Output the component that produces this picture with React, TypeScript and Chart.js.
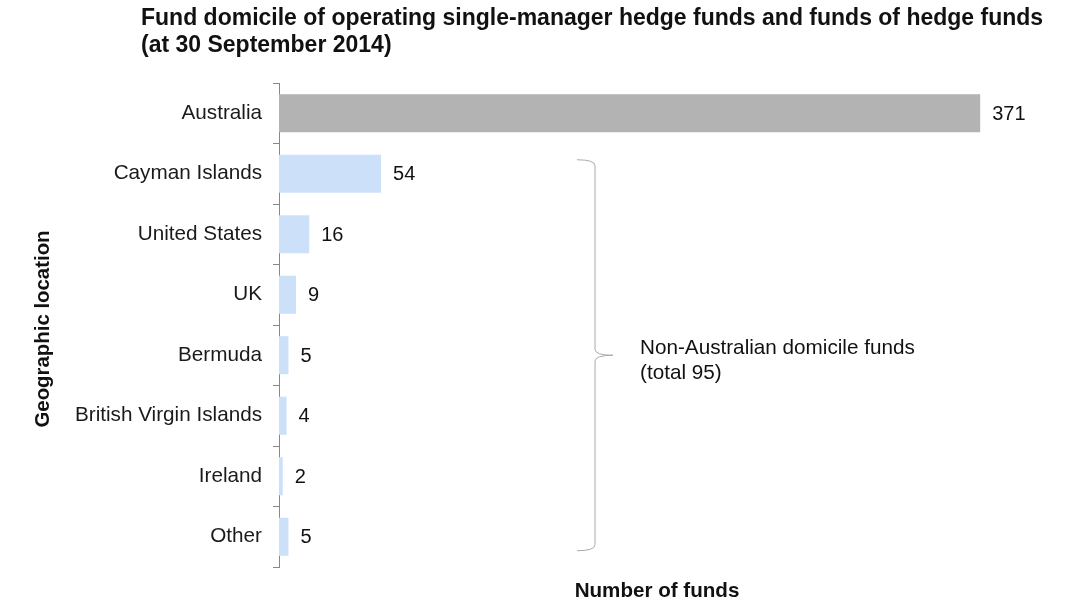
import React, { useEffect, useRef } from "react";
import { Chart, registerables } from "chart.js";

Chart.register(...registerables);

const categories = [
  "Australia",
  "Cayman Islands",
  "United States",
  "UK",
  "Bermuda",
  "British Virgin Islands",
  "Ireland",
  "Other",
];
const fundCounts = [371, 54, 16, 9, 5, 4, 2, 5];
const barColors = ["#b3b3b3", "#cce0f9", "#cce0f9", "#cce0f9", "#cce0f9", "#cce0f9", "#cce0f9", "#cce0f9"];
const titleLines = [
  "Fund domicile of operating single-manager hedge funds and funds of hedge funds",
  "(at 30 September 2014)",
];
const braceLabelLines = ["Non-Australian domicile funds", "(total 95)"];
const xAxisTitle = "Number of funds";
const yAxisTitle = "Geographic location";
const xMax = 400;

const FONT = '"Liberation Sans", Arial, sans-serif';

const annotations = {
  id: "annotations",
  afterDatasetsDraw(chart: any) {
    const ctx = chart.ctx as CanvasRenderingContext2D;
    const meta = chart.getDatasetMeta(0);
    const area = chart.chartArea;
    ctx.save();
    // value labels
    ctx.font = `20px ${FONT}`;
    ctx.fillStyle = "#111";
    ctx.textBaseline = "middle";
    ctx.textAlign = "left";
    meta.data.forEach((bar: any, i: number) => {
      ctx.fillText(String(fundCounts[i]), bar.x + 12, bar.y + 1);
    });

    // title
    ctx.font = `bold 23px ${FONT}`;
    ctx.fillStyle = "#111";
    ctx.fillText(titleLines[0], 141, 19);
    ctx.fillText(titleLines[1], 141, 46);

    // x axis title
    ctx.textAlign = "center";
    ctx.font = `bold 20.6px ${FONT}`;
    ctx.fillText(xAxisTitle, (area.left + area.right) / 2, 591);

    // y axis title
    ctx.save();
    ctx.translate(43, (area.top + area.bottom) / 2 + 4);
    ctx.rotate(-Math.PI / 2);
    ctx.font = `bold 20.4px ${FONT}`;
    ctx.fillText(yAxisTitle, 0, 0);
    ctx.restore();

    // brace spanning non-Australian categories
    const yScale = chart.scales.y;
    const top = yScale.getPixelForValue(1) - 14;
    const bottom = yScale.getPixelForValue(categories.length - 1) + 14;
    const mid = (top + bottom) / 2;
    const bx = 595;
    ctx.strokeStyle = "#aaa";
    ctx.lineWidth = 1;
    ctx.beginPath();
    ctx.moveTo(577, top);
    ctx.quadraticCurveTo(bx, top, bx, top + 6);
    ctx.lineTo(bx, mid - 6);
    ctx.quadraticCurveTo(bx, mid, bx + 18, mid);
    ctx.quadraticCurveTo(bx, mid, bx, mid + 6);
    ctx.lineTo(bx, bottom - 6);
    ctx.quadraticCurveTo(bx, bottom, 577, bottom);
    ctx.stroke();

    // brace label
    ctx.textAlign = "left";
    ctx.font = `20.7px ${FONT}`;
    ctx.fillStyle = "#111";
    ctx.fillText(braceLabelLines[0], 640, mid - 7);
    ctx.fillText(braceLabelLines[1], 640, mid + 18);
    ctx.restore();
  },
};

export default function App() {
  const canvasRef = useRef<HTMLCanvasElement>(null);
  useEffect(() => {
    const chart = new Chart(canvasRef.current!, {
      type: "bar",
      data: {
        labels: categories,
        datasets: [
          {
            data: fundCounts,
            backgroundColor: barColors,
            borderWidth: 0,
            categoryPercentage: 1,
            barPercentage: 0.63,
          },
        ],
      },
      options: {
        indexAxis: "y",
        animation: false,
        responsive: true,
        maintainAspectRatio: false,
        layout: { padding: { top: 83, right: 43, left: 0, bottom: 0 } },
        plugins: {
          legend: { display: false },
          tooltip: { enabled: false },
          title: { display: false },
        },
        scales: {
          x: {
            min: 0,
            max: xMax,
            ticks: { display: false },
            grid: { display: false },
            border: { display: false },
            afterFit(scale: any) {
              scale.height = 43;
            },
          },
          y: {
            ticks: {
              color: "#1a1a1a",
              font: { family: FONT, size: 20.7 },
              padding: 11,
            },
            grid: {
              drawOnChartArea: false,
              drawTicks: true,
              tickLength: 6,
              color: "#888",
            },
            border: { display: true, color: "#888" },
            afterFit(scale: any) {
              scale.width = 279;
            },
          },
        },
      },
      plugins: [annotations],
    });
    return () => chart.destroy();
  }, []);
  return (
    <div style={{ position: "fixed", left: 0, top: 0, width: 1078, height: 610, background: "#fff" }}>
      <canvas ref={canvasRef} />
    </div>
  );
}
